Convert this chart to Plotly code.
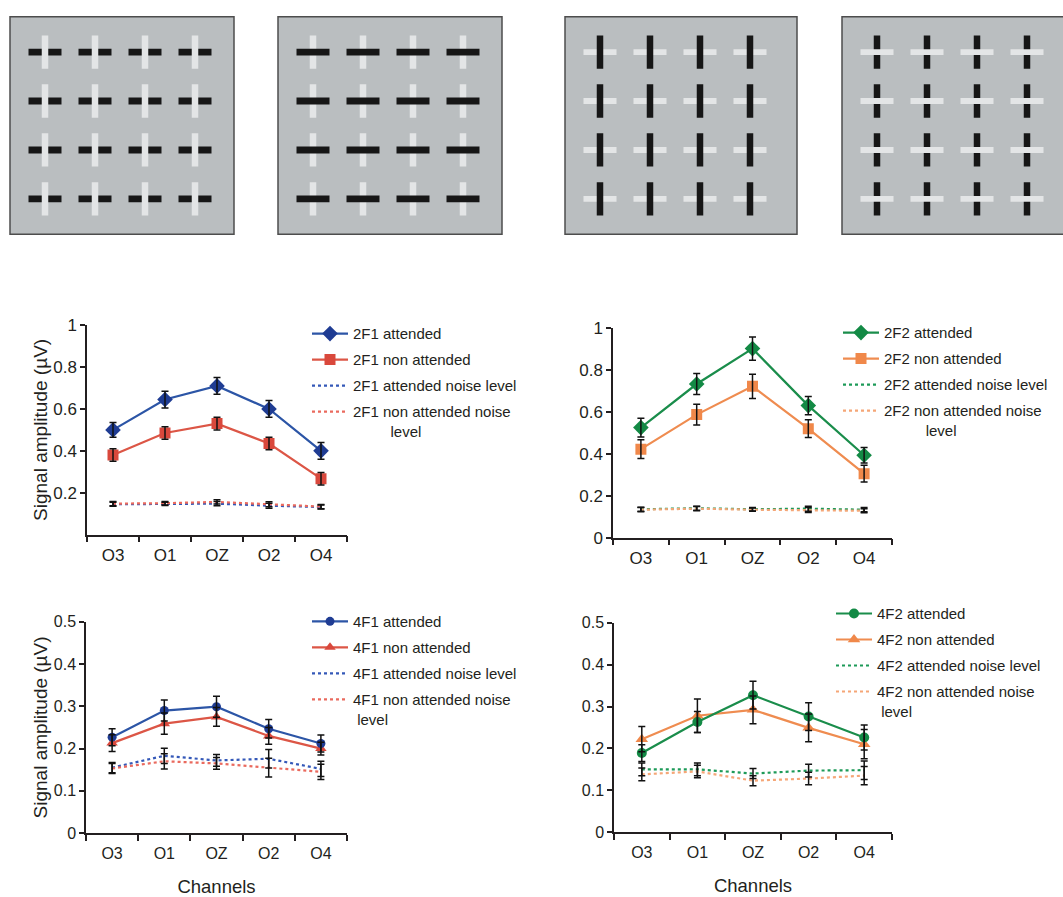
import plotly.graph_objects as go

W, H = 1063, 897

# ---------------- data ----------------
channels = ["O3", "O1", "OZ", "O2", "O4"]

# 2F1
f2f1_att = [0.50, 0.645, 0.71, 0.60, 0.40]
f2f1_att_err = [0.035, 0.04, 0.04, 0.04, 0.04]
f2f1_non = [0.38, 0.485, 0.53, 0.435, 0.267]
f2f1_non_err = [0.03, 0.03, 0.03, 0.03, 0.03]
f2f1_att_noise = [0.145, 0.147, 0.148, 0.138, 0.132]
f2f1_non_noise = [0.148, 0.150, 0.156, 0.145, 0.134]
f2f1_noise_err = [0.010, 0.008, 0.010, 0.012, 0.010]

# 2F2
f2f2_att = [0.525, 0.733, 0.902, 0.630, 0.393]
f2f2_att_err = [0.045, 0.05, 0.055, 0.044, 0.037]
f2f2_non = [0.422, 0.587, 0.722, 0.520, 0.305]
f2f2_non_err = [0.045, 0.05, 0.058, 0.042, 0.04]
f2f2_att_noise = [0.135, 0.140, 0.135, 0.138, 0.133]
f2f2_non_noise = [0.133, 0.138, 0.133, 0.132, 0.128]
f2f2_noise_err = [0.010, 0.010, 0.008, 0.012, 0.010]

# 4F1
f4f1_att = [0.227, 0.290, 0.299, 0.247, 0.212]
f4f1_att_err = [0.02, 0.025, 0.025, 0.022, 0.02]
f4f1_non = [0.213, 0.259, 0.275, 0.230, 0.200]
f4f1_non_err = [0.02, 0.025, 0.022, 0.02, 0.015]
f4f1_att_noise = [0.155, 0.183, 0.172, 0.176, 0.152]
f4f1_non_noise = [0.153, 0.170, 0.165, 0.155, 0.145]
f4f1_noise_err = [0.012, 0.018, 0.014, 0.022, 0.018]

# 4F2
f4f2_att = [0.189, 0.263, 0.327, 0.276, 0.226]
f4f2_att_err = [0.02, 0.025, 0.033, 0.033, 0.03]
f4f2_non = [0.222, 0.278, 0.292, 0.249, 0.210]
f4f2_non_err = [0.03, 0.04, 0.033, 0.033, 0.035]
f4f2_att_noise = [0.150, 0.150, 0.140, 0.147, 0.148]
f4f2_non_noise = [0.138, 0.145, 0.123, 0.128, 0.135]
f4f2_noise_err = [0.015, 0.015, 0.012, 0.015, 0.022]

ytick_top_left = [0.2, 0.4, 0.6, 0.8, 1]
ytick_top_right = [0, 0.2, 0.4, 0.6, 0.8, 1]
ytick_bottom = [0, 0.1, 0.2, 0.3, 0.4, 0.5]

# stimulus grids
grid_cols = [1, 2, 3, 4]
grid_rows = [1, 2, 3, 4]
black_orient = ["h", "h", "v", "v"]
white_on_top = [True, False, False, True]

# ---------------- helpers ----------------
def X(p):
    return p / W


def Y(p):
    return 1 - p / H


TXT = "#231f20"
FONT = "Liberation Sans, Arial, Helvetica, sans-serif"

fig = go.Figure()

charts = [
    dict(k="", label="2F1", att=f2f1_att, att_err=f2f1_att_err, non=f2f1_non, non_err=f2f1_non_err,
         an=f2f1_att_noise, nn=f2f1_non_noise, ne=f2f1_noise_err,
         c_att="#1f3c93", c_att_line="#2c55a6", c_non="#d9483c", c_non_line="#dc5646",
         c_an="#3458b8", c_nn="#ea6a5e", sym_att="diamond", sym_non="square", s_att=12, s_non=11,
         box=(87, 347, 323, 537), yr=[0, 1], ticks=ytick_top_left, ytitle=True, xtitle=False,
         leg=(307, 315), lvl="\u00a0" * 9, tfs=17, tso=4),
    dict(k="2", label="2F2", att=f2f2_att, att_err=f2f2_att_err, non=f2f2_non, non_err=f2f2_non_err,
         an=f2f2_att_noise, nn=f2f2_non_noise, ne=f2f2_noise_err,
         c_att="#138a45", c_att_line="#1a8d4b", c_non="#f0884a", c_non_line="#ef8c50",
         c_an="#1d9a58", c_nn="#f5a677", sym_att="diamond", sym_non="square", s_att=12, s_non=11,
         box=(613, 892, 326, 540), yr=[0, 1], ticks=ytick_top_right, ytitle=False, xtitle=False,
         leg=(838, 314), lvl="\u00a0" * 10, tfs=17, tso=4),
    dict(k="3", label="4F1", att=f4f1_att, att_err=f4f1_att_err, non=f4f1_non, non_err=f4f1_non_err,
         an=f4f1_att_noise, nn=f4f1_non_noise, ne=f4f1_noise_err,
         c_att="#1f3c93", c_att_line="#2c55a6", c_non="#d9483c", c_non_line="#dc5646",
         c_an="#3458b8", c_nn="#ea6a5e", sym_att="circle", sym_non="triangle-up", s_att=9, s_non=10,
         box=(86, 347, 626, 842), yr=[0, 0.5], ticks=ytick_bottom, ytitle=True, xtitle=True,
         leg=(307, 609), lvl="\u00a0", tfs=16, tso=5),
    dict(k="4", label="4F2", att=f4f2_att, att_err=f4f2_att_err, non=f4f2_non, non_err=f4f2_non_err,
         an=f4f2_att_noise, nn=f4f2_non_noise, ne=f4f2_noise_err,
         c_att="#138a45", c_att_line="#1a8d4b", c_non="#f0884a", c_non_line="#ef8c50",
         c_an="#1d9a58", c_nn="#f5a677", sym_att="circle", sym_non="triangle-up", s_att=10, s_non=11,
         box=(614, 892, 627, 841), yr=[0, 0.5], ticks=ytick_bottom, ytitle=False, xtitle=True,
         leg=(831, 601), lvl="\u00a0", tfs=16, tso=5),
]

for i, c in enumerate(charts):
    k = c["k"]
    xa, ya = "x" + k, "y" + k
    legname = "legend" + k
    eb = dict(type="data", visible=True, color="#111111", thickness=1.5, width=3.5)
    common = dict(x=channels, xaxis=xa, yaxis=ya, legend=legname)
    fig.add_trace(go.Scatter(y=c["an"], mode="lines", name=c["label"] + " attended noise level",
                             line=dict(color=c["c_an"], width=2.2, dash="dot"),
                             legendgroup=f"g{i}c", legendrank=3, **common))
    fig.add_trace(go.Scatter(y=c["nn"], mode="lines",
                             name=c["label"] + " non attended noise<br>" + c["lvl"] + "level",
                             line=dict(color=c["c_nn"], width=2.2, dash="dot"),
                             legendgroup=f"g{i}d", legendrank=4, **common))
    fig.add_trace(go.Scatter(y=c["non"], mode="lines+markers", name=c["label"] + " non attended",
                             line=dict(color=c["c_non_line"], width=2.2),
                             marker=dict(symbol=c["sym_non"], size=c["s_non"], color=c["c_non"]),
                             legendgroup=f"g{i}b", legendrank=2, **common))
    fig.add_trace(go.Scatter(y=c["att"], mode="lines+markers", name=c["label"] + " attended",
                             line=dict(color=c["c_att_line"], width=2.2),
                             marker=dict(symbol=c["sym_att"], size=c["s_att"], color=c["c_att"]),
                             legendgroup=f"g{i}a", legendrank=1, **common))
    # error bars drawn on top
    for yy, ee in ((c["an"], c["ne"]), (c["nn"], c["ne"]), (c["non"], c["non_err"]), (c["att"], c["att_err"])):
        fig.add_trace(go.Scatter(y=yy, mode="markers", showlegend=False, hoverinfo="skip",
                                 marker=dict(size=2, color="rgba(0,0,0,0)"),
                                 error_y=dict(array=ee, **eb), **common))

    x0, x1, yt, yb = c["box"]
    axis_common = dict(showline=True, linecolor=TXT, linewidth=1.5, showgrid=False, zeroline=False,
                       ticks="outside", tickcolor=TXT, tickwidth=1.5,
                       tickfont=dict(family=FONT, size=c["tfs"], color=TXT))
    xdict = dict(domain=[X(x0), X(x1)], anchor=ya, type="category", range=[-0.5, 4.5],
                 tickson="boundaries", ticklen=6, ticklabelstandoff=c["tso"], **axis_common)
    if c["xtitle"]:
        xdict["title"] = dict(text="Channels", font=dict(family=FONT, size=18.5, color=TXT), standoff=19)
    ydict = dict(domain=[Y(yb), Y(yt)], anchor=xa, range=c["yr"], tickvals=c["ticks"],
                 ticktext=[("%g" % v) for v in c["ticks"]], ticklen=5, **axis_common)
    if c["ytitle"]:
        ydict["title"] = dict(text="Signal amplitude (\u00b5V)", font=dict(family=FONT, size=19, color=TXT),
                              standoff=1)
    fig.update_layout({"xaxis" + k: xdict, "yaxis" + k: ydict})
    lx, ly = c["leg"]
    fig.update_layout({legname: dict(x=X(lx), y=Y(ly), xanchor="left", yanchor="top", valign="top",
                                     bgcolor="rgba(0,0,0,0)", traceorder="grouped", tracegroupgap=3.5,
                                     itemwidth=36, font=dict(family=FONT, size=15, color=TXT))})

# ---------------- stimulus panels ----------------
stim_left = [10, 278, 565, 842]
stim_right = [234, 502, 797, 1075]
stim_top, stim_bottom = 8, 230
unit = 50.0
shapes = []
for p in range(4):
    n = p + 5
    L, R = stim_left[p], stim_right[p]
    Rv = min(R, W)
    xr0 = 0.3
    yr0 = 0.28
    fig.update_layout({
        f"xaxis{n}": dict(domain=[X(L), X(Rv)], range=[xr0, xr0 + (Rv - L) / unit], visible=False,
                          anchor=f"y{n}", fixedrange=True),
        f"yaxis{n}": dict(domain=[Y(stim_bottom), Y(stim_top)],
                          range=[yr0 + (stim_bottom - stim_top) / unit, yr0], visible=False,
                          anchor=f"x{n}", fixedrange=True),
    })
    shapes.append(dict(type="rect", xref="paper", yref="paper", x0=X(L), x1=X(R), y0=Y(stim_bottom),
                       y1=Y(stim_top), fillcolor="#babec0", line=dict(color="#4d4d4d", width=1.5),
                       layer="above"))
    blacks, whites = [], []
    for r in grid_rows:
        for cc in grid_cols:
            if black_orient[p] == "h":
                blacks.append((cc - 0.33, cc + 0.33, r - 0.07, r + 0.07))
                whites.append((cc - 0.065, cc + 0.065, r - 0.34, r + 0.34))
            else:
                blacks.append((cc - 0.065, cc + 0.065, r - 0.34, r + 0.34))
                whites.append((cc - 0.33, cc + 0.33, r - 0.06, r + 0.06))
    order = [(blacks, "#161616"), (whites, "#e3e5e6")]
    if not white_on_top[p]:
        order = order[::-1]
    for lst, col in order:
        for (a, b, c0, d) in lst:
            shapes.append(dict(type="rect", xref=f"x{n}", yref=f"y{n}", x0=a, x1=b, y0=c0, y1=d,
                               fillcolor=col, line=dict(width=0), layer="above"))

fig.update_layout(
    shapes=shapes,
    width=W, height=H,
    margin=dict(l=0, r=0, t=0, b=0),
    paper_bgcolor="white",
    plot_bgcolor="white",
    font=dict(family=FONT, color=TXT),
)

fig.write_html("out.html", config={"displayModeBar": False},
               post_script="document.body.style.margin='0';document.body.style.overflow='hidden';")
